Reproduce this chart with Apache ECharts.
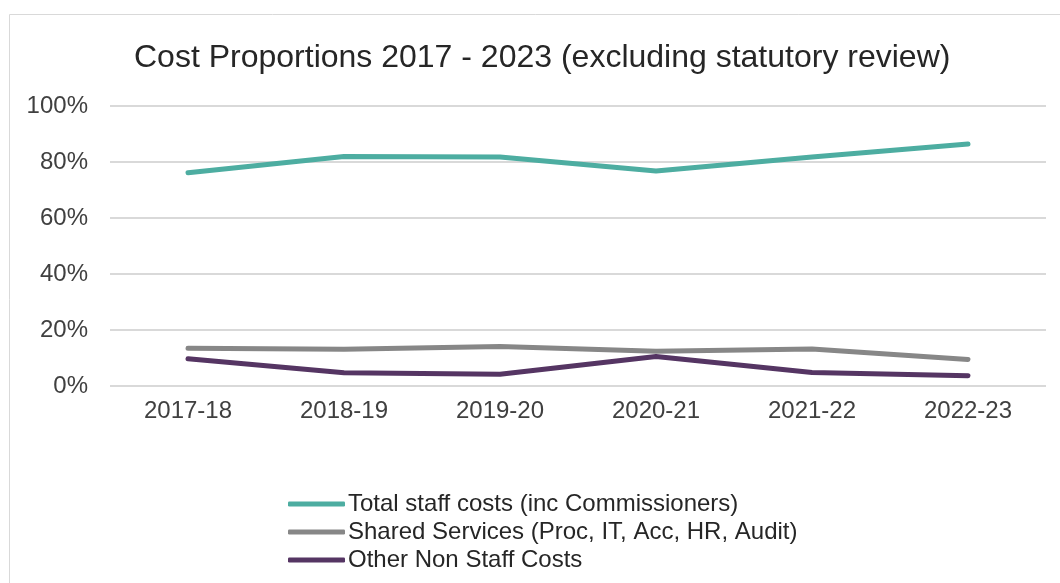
<!DOCTYPE html>
<html><head><meta charset="utf-8">
<script src="https://cdn.jsdelivr.net/npm/echarts@6/dist/echarts.min.js"></script>
<style>html,body{margin:0;padding:0;background:#fff}#c{width:1060px;height:583px}</style>
</head><body><div id="c"></div>
<script>
const categories = ['2017-18','2018-19','2019-20','2020-21','2021-22','2022-23'];
const totalStaff = [76.2, 82.0, 81.8, 76.8, 81.8, 86.4];
const sharedServices = [13.5, 13.1, 14.1, 12.4, 13.2, 9.5];
const otherNonStaff = [9.7, 4.7, 4.2, 10.5, 4.8, 3.7];
const yTicks = [0, 20, 40, 60, 80, 100];
const seriesNames = ['Total staff costs (inc Commissioners)','Shared Services (Proc, IT, Acc, HR, Audit)','Other Non Staff Costs'];
const colors = ['#4DADA1','#878787','#553563'];

const chart = echarts.init(document.getElementById('c'), null, {renderer:'canvas'});
const font = 'Liberation Sans, Arial, sans-serif';
const mk = (name, data, color) => ({
  name, type:'line', data, symbol:'none', smooth:false,
  lineStyle:{color, width:5, cap:'round', join:'round'},
  itemStyle:{color}
});
chart.setOption({
  animation:false,
  graphic:[{type:'rect', shape:{x:9.5,y:14.5,width:1100,height:700}, style:{fill:'none',stroke:'#D9D9D9',lineWidth:1}, silent:true}],
  title:{text:'Cost Proportions 2017 - 2023 (excluding statutory review)', left:134, top:42, padding:0,
    textStyle:{fontFamily:font, fontSize:32, fontWeight:'normal', color:'#262626'}},
  grid:{left:110, right:14, top:106, bottom:197, containLabel:false},
  xAxis:{type:'category', data:categories, boundaryGap:true,
    axisLine:{show:false}, axisTick:{show:false},
    axisLabel:{fontFamily:font, fontSize:24, color:'#404040', margin:13}},
  yAxis:{type:'value', min:0, max:100, interval:20,
    axisLine:{show:false}, axisTick:{show:false},
    axisLabel:{fontFamily:font, fontSize:24, color:'#404040', margin:22,
      formatter:v=> yTicks.includes(v) ? v+'%' : ''},
    splitLine:{lineStyle:{color:'#D9D9D9', width:2}}},
  legend:{orient:'vertical', left:288, top:492, padding:0, itemWidth:57, itemHeight:5, itemGap:4,
    icon:'roundRect',
    textStyle:{fontFamily:font, fontSize:24, color:'#262626', lineHeight:24, padding:[0,0,0,-2]},
    data:seriesNames},
  series:[mk(seriesNames[0], totalStaff, colors[0]), mk(seriesNames[1], sharedServices, colors[1]), mk(seriesNames[2], otherNonStaff, colors[2])]
});
</script></body></html>
